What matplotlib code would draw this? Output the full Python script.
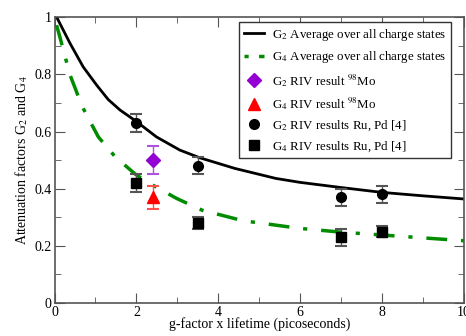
import matplotlib
matplotlib.use("Agg")
import matplotlib.pyplot as plt
from matplotlib.lines import Line2D
from matplotlib.ticker import MultipleLocator

# curves
g2_avg_x = [0.07, 0.38, 0.70, 1.03, 1.31, 1.60, 1.98, 2.49, 3.06, 3.55, 4.4, 5.4, 6.0, 7.0, 8.0, 9.0, 10.0]
g2_avg_y = [0.995, 0.908, 0.826, 0.762, 0.712, 0.675, 0.637, 0.581, 0.535, 0.508, 0.471, 0.436, 0.422, 0.404, 0.387, 0.375, 0.364]
g4_avg_x = [0.05, 0.13, 0.26, 0.38, 0.50, 0.66, 0.82, 1.07, 1.49, 1.98, 2.33, 2.98, 3.6, 4.6, 6.0, 7.0, 8.0, 9.0, 10.0]
g4_avg_y = [0.972, 0.931, 0.861, 0.797, 0.753, 0.692, 0.648, 0.581, 0.51, 0.45, 0.418, 0.366, 0.325, 0.288, 0.261, 0.248, 0.238, 0.228, 0.218]

# 98Mo results
mo_x = [2.4]
mo_g2 = [0.50]
mo_g2_err = [0.05]
mo_g4 = [0.37]
mo_g4_err = [0.04]

# Ru, Pd results [4]
ru_x = [2.0, 3.5, 7.0, 8.0]
ru_g2 = [0.63, 0.48, 0.37, 0.38]
ru_g2_err = [0.03, 0.03, 0.03, 0.03]
ru_g4 = [0.42, 0.28, 0.23, 0.25]
ru_g4_err = [0.03, 0.02, 0.03, 0.02]

plt.rcParams['font.family'] = ['Liberation Serif', 'DejaVu Serif']
plt.rcParams['mathtext.fontset'] = 'stix'

green = '#008c00'
purple = '#9400d3'

fig = plt.figure(figsize=(4.66, 3.36), dpi=100)
ax = fig.add_axes([0.117, 0.098, 0.879, 0.851])

ax.plot(g2_avg_x, g2_avg_y, color='black', lw=2)
ax.plot(g4_avg_x, g4_avg_y, color=green, lw=2.5, dashes=(6, 4, 1.2, 4))

ax.errorbar(mo_x, mo_g2, yerr=mo_g2_err, fmt='D', color=purple, ms=7,
            ecolor='#b050e0', elinewidth=1, capsize=4, capthick=1.5)
ax.errorbar(mo_x, mo_g4, yerr=mo_g4_err, fmt='^', color='red', ms=9,
            ecolor='#ff5050', elinewidth=1, capsize=4, capthick=1.5)
ax.errorbar(ru_x, ru_g2, yerr=ru_g2_err, fmt='o', color='black', ms=7,
            ecolor='#555555', elinewidth=1, capsize=4, capthick=1.5)
ax.errorbar(ru_x, ru_g4, yerr=ru_g4_err, fmt='s', color='black', ms=7,
            ecolor='#555555', elinewidth=1, capsize=4, capthick=1.5)

ax.set_xlim(0, 10)
ax.set_ylim(0, 1)
ax.xaxis.set_minor_locator(MultipleLocator(1))
ax.yaxis.set_minor_locator(MultipleLocator(0.1))
ax.set_xticks([0, 2, 4, 6, 8, 10], ['0', '2', '4', '6', '8', '10'])
ax.set_yticks([0, 0.2, 0.4, 0.6, 0.8, 1.0], ['0', '0.2', '0.4', '0.6', '0.8', '1'])
ax.tick_params(which='both', direction='in', top=True, right=True,
               color='#555555', labelsize=10, pad=2)
ax.tick_params(which='major', length=7)
ax.tick_params(which='minor', length=4)
for s in ax.spines.values():
    s.set_color('#555555')
    s.set_linewidth(1.2)

ax.set_xlabel('g-factor x lifetime (picoseconds)', fontsize=10, labelpad=-1)
ax.set_ylabel(r'Attenuation factors G$_2$ and G$_4$', fontsize=10, labelpad=3)

handles = [
    Line2D([], [], color='black', lw=2),
    Line2D([], [], color=green, lw=2.5, dashes=(1.2, 3, 4, 3)),
    Line2D([], [], ls='none', marker='D', color=purple, ms=7),
    Line2D([], [], ls='none', marker='^', color='red', ms=8),
    Line2D([], [], ls='none', marker='o', color='black', ms=7),
    Line2D([], [], ls='none', marker='s', color='black', ms=7),
]
labels = [
    r'G$_2$ Average over all charge states',
    r'G$_4$ Average over all charge states',
    r'G$_2$ RIV result $^{98}$Mo',
    r'G$_4$ RIV result $^{98}$Mo',
    r'G$_2$ RIV results Ru, Pd [4]',
    r'G$_4$ RIV results Ru, Pd [4]',
]
leg = ax.legend(handles, labels, loc='upper right', bbox_to_anchor=(0.968, 0.982),
                fontsize=9.3, fancybox=False, framealpha=1, edgecolor='#333333',
                handlelength=1.6, borderpad=0.35, labelspacing=0.5,
                handletextpad=0.6, borderaxespad=0)
leg.get_frame().set_linewidth(1)

fig.savefig('out.png', dpi=100)
